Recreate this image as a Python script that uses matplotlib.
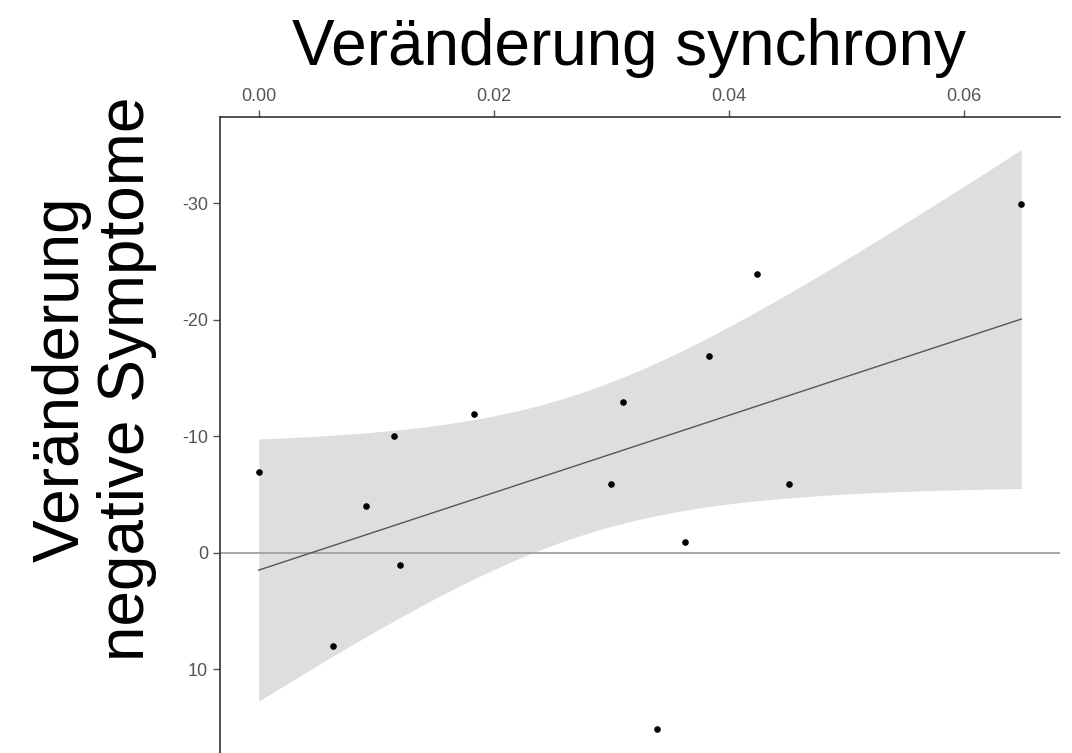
import matplotlib

matplotlib.use("Agg")
import matplotlib.pyplot as plt
import numpy as np

plt.rcParams.update({"font.family": ["Liberation Sans", "DejaVu Sans"]})

# values
sync_change = np.array([0.0000, 0.0063, 0.0091, 0.0115, 0.0120, 0.0183, 0.0300,
                        0.0310, 0.0339, 0.0363, 0.0383, 0.0424, 0.0451, 0.0649])
neg_change = np.array([-6.9, 8.0, -4.0, -10.0, 1.1, -11.9, -5.9,
                       -12.9, 15.1, -0.9, -16.9, -23.9, -5.9, -29.9])
x_ticks = [0.00, 0.02, 0.04, 0.06]
x_labels = ["0.00", "0.02", "0.04", "0.06"]
y_ticks = [-30, -20, -10, 0, 10]
y_labels = ["-30", "-20", "-10", "0", "10"]

# linear fit with 95% confidence band
n = len(sync_change)
slope, intercept = np.polyfit(sync_change, neg_change, 1)
resid = neg_change - (intercept + slope * sync_change)
s = np.sqrt(np.sum(resid ** 2) / (n - 2))
xg = np.linspace(sync_change.min(), sync_change.max(), 200)
xm = sync_change.mean()
sxx = np.sum((sync_change - xm) ** 2)
se = s * np.sqrt(1 / n + (xg - xm) ** 2 / sxx)
t_crit = 2.179  # t(0.975, df=12)
fit = intercept + slope * xg

fig = plt.figure(figsize=(10.72, 7.53), dpi=100)
ax = fig.add_axes([0.2052, 0.0, 0.7836, 0.8446])

ax.axhline(0, color="#a0a0a0", lw=1.3, zorder=1)
ax.fill_between(xg, fit - t_crit * se, fit + t_crit * se, color="#dedede", lw=0, zorder=0)
ax.plot(xg, fit, color="#555555", lw=1.0, zorder=2)
ax.scatter(sync_change, neg_change, s=14, color="black", zorder=3)

ax.set_xlim(-0.0033, 0.0682)
ax.set_ylim(17.2, -37.4)
ax.xaxis.tick_top()
ax.set_xticks(x_ticks, x_labels)
ax.set_yticks(y_ticks, y_labels)
ax.tick_params(colors="#555555", labelsize=13, length=5, width=1, labelcolor="#555555")
for side in ("right", "bottom"):
    ax.spines[side].set_visible(False)
for side in ("top", "left"):
    ax.spines[side].set_color("#333333")
    ax.spines[side].set_linewidth(1.2)

fig.text(0.587, 0.936, "Veränderung synchrony", ha="center", va="center", fontsize=46)
fig.text(0.088, 0.497, "Veränderung\nnegative Symptome", ha="center", va="center",
         rotation=90, fontsize=46, linespacing=1.1)

fig.savefig("out.png", dpi=100)
